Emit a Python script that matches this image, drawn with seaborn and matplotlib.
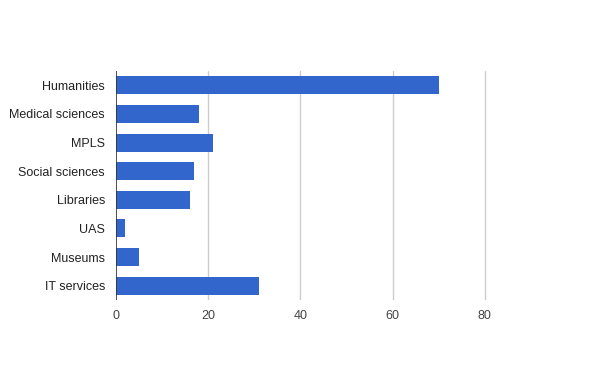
import matplotlib
matplotlib.use("Agg")
import matplotlib.pyplot as plt
import seaborn as sns
import pandas as pd

categories = ["Humanities", "Medical sciences", "MPLS", "Social sciences",
              "Libraries", "UAS", "Museums", "IT services"]
values = [70, 18, 21, 17, 16, 2, 5, 31]
x_ticks = [0, 20, 40, 60, 80]

sns.set_theme(style="white")
plt.rcParams['font.family'] = ['Liberation Sans', 'DejaVu Sans']

df = pd.DataFrame({"category": categories, "value": values})

fig = plt.figure(figsize=(6, 3.71), dpi=100)
ax = fig.add_axes([116 / 600, 1 - 300 / 371, (577 - 116) / 600, (300 - 71) / 371])

sns.barplot(data=df, x="value", y="category", orient="h", color="#3366cc",
            saturation=1, width=0.63, linewidth=0, ax=ax, zorder=3)

ax.set_xlim(0, 100)
ax.set_ylim(len(categories) - 0.5, -0.5)
ax.set_xticks(x_ticks)
ax.set_xticklabels([str(t) for t in x_ticks])
for t in x_ticks[1:]:
    ax.axvline(t, color="#cccccc", lw=1, zorder=1)
ax.axvline(0, color="#333333", lw=1.2, zorder=4)
for s in ax.spines.values():
    s.set_visible(False)
ax.set_xlabel("")
ax.set_ylabel("")
ax.tick_params(axis="y", length=0, pad=8, labelsize=9, labelcolor="#222222")
ax.tick_params(axis="x", length=0, pad=7, labelsize=9, labelcolor="#444444")
ax.grid(False)

fig.savefig("out.png", dpi=100)
